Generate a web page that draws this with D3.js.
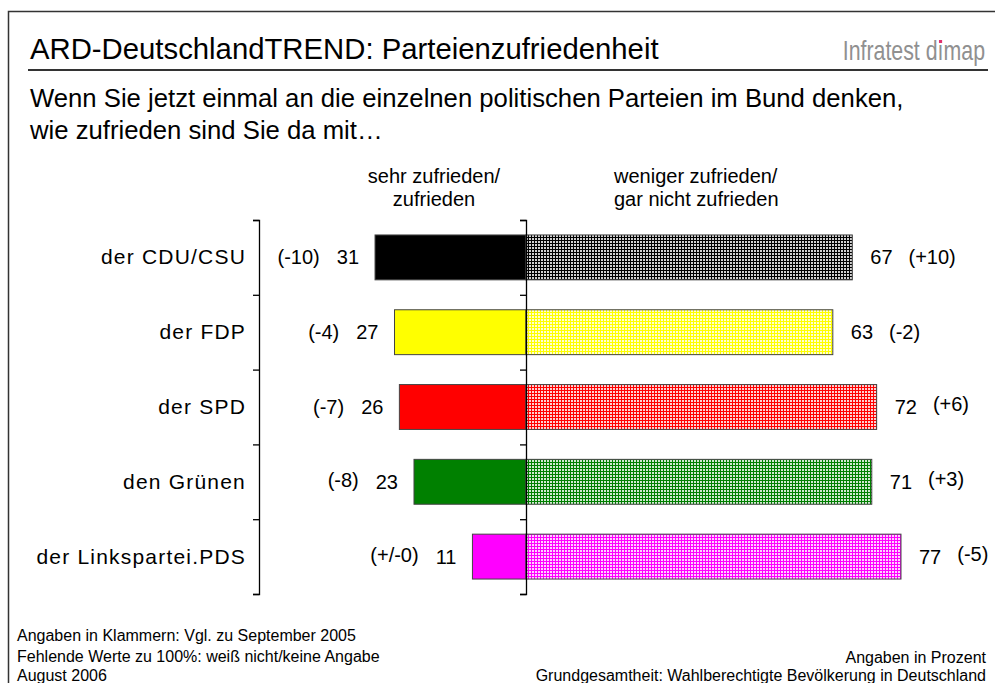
<html>
<head>
<meta charset="utf-8"/>
<script src="https://d3js.org/d3.v7.min.js"></script>
<style>
  body { margin: 0; background: #fff; }
  text { font-family: "Liberation Sans", Arial, sans-serif; fill: #000; }
</style>
</head>
<body>
<div id="v"></div>
<script type="text/javascript">
// data
var parties = ["der CDU/CSU", "der FDP", "der SPD", "den Grünen", "der Linkspartei.PDS"];
var satisfied = [31, 27, 26, 23, 11];
var satisfiedChange = ["(-10)", "(-4)", "(-7)", "(-8)", "(+/-0)"];
var dissatisfied = [67, 63, 72, 71, 77];
var dissatisfiedChange = ["(+10)", "(-2)", "(+6)", "(+3)", "(-5)"];
var partyColors = ["#000000", "#ffff00", "#ff0000", "#008000", "#ff00ff"];

(function() {
  var width = 995, height = 683;
  var center = 526, axisLeftX = 259;

  var svg = d3.select("#v").append("svg")
    .attr("width", width)
    .attr("height", height);

  // dotted grid patterns for the right hand bars
  var defs = svg.append("defs");
  partyColors.forEach(function(c, i) {
    var p = defs.append("pattern")
      .attr("id", "pat" + i)
      .attr("width", 3).attr("height", 3)
      .attr("patternUnits", "userSpaceOnUse");
    p.append("rect").attr("width", 3).attr("height", 3).attr("fill", c);
    p.append("rect").attr("x", 1).attr("y", 1).attr("width", 2).attr("height", 2)
      .attr("fill", "#fff").attr("fill-opacity", 0.82);
  });

  // frame + header
  svg.append("path")
    .attr("d", "M8.5," + height + "V11.5H" + width)
    .attr("fill", "none").attr("stroke", "#333").attr("stroke-width", 1.5);

  svg.append("text")
    .attr("x", 30).attr("y", 59)
    .style("font-size", "29.3px")
    .text("ARD-DeutschlandTREND: Parteienzufriedenheit");

  var brandG = svg.append("g").attr("transform", "translate(985,60) scale(0.79,1)");
  var brand = brandG.append("text")
    .attr("x", 0).attr("y", 0)
    .attr("text-anchor", "end")
    .style("font-size", "27px")
    .style("fill", "#909090")
    .text("Infratest d\u0131map");
  var ext = brand.node().getExtentOfChar(11);
  brandG.append("rect")
    .attr("x", ext.x + ext.width / 2 - 2)
    .attr("y", -20)
    .attr("width", 4).attr("height", 3)
    .attr("fill", "#e0306e");

  svg.append("line")
    .attr("x1", 28).attr("x2", 988)
    .attr("y1", 70).attr("y2", 70)
    .attr("stroke", "#333").attr("stroke-width", 2);

  svg.append("text")
    .attr("x", 30).attr("y", 107)
    .style("font-size", "25.7px")
    .text("Wenn Sie jetzt einmal an die einzelnen politischen Parteien im Bund denken,");
  svg.append("text")
    .attr("x", 30).attr("y", 139)
    .style("font-size", "25.7px")
    .text("wie zufrieden sind Sie da mit\u2026");

  // column headers
  var hdr = svg.append("g").style("font-size", "20px");
  hdr.append("text").attr("x", 434).attr("y", 183).attr("text-anchor", "middle").text("sehr zufrieden/");
  hdr.append("text").attr("x", 434).attr("y", 206).attr("text-anchor", "middle").text("zufrieden");
  hdr.append("text").attr("x", 614).attr("y", 183).text("weniger zufrieden/");
  hdr.append("text").attr("x", 614).attr("y", 206).text("gar nicht zufrieden");

  // scales
  var y = d3.scaleBand()
    .domain(parties)
    .range([220, 594])
    .paddingInner(0.4)
    .paddingOuter(0.2);
  var xLeft = d3.scaleLinear().domain([0, 100]).range([center, center - 487]);
  var xRight = d3.scaleLinear().domain([0, 100]).range([center, center + 487]);
  var edges = d3.scaleLinear().domain([0, parties.length]).range([220, 594]);

  // bars
  var rows = svg.selectAll(".row")
    .data(parties).enter()
    .append("g")
    .attr("class", "row");

  rows.append("rect")
    .attr("x", function(d, i) { return xLeft(satisfied[i]); })
    .attr("y", function(d) { return y(d); })
    .attr("width", function(d, i) { return center - xLeft(satisfied[i]); })
    .attr("height", y.bandwidth())
    .attr("fill", function(d, i) { return partyColors[i]; })
    .attr("stroke", "#444").attr("stroke-width", 1);

  rows.append("rect")
    .attr("x", center)
    .attr("y", function(d) { return y(d); })
    .attr("width", function(d, i) { return xRight(dissatisfied[i]) - center; })
    .attr("height", y.bandwidth())
    .attr("fill", function(d, i) { return "url(#pat" + i + ")"; })
    .attr("stroke", "#444").attr("stroke-width", 1);

  // value labels
  var mid = function(d) { return y(d) + y.bandwidth() / 2 + 7; };

  rows.each(function(d, i) {
    var g = d3.select(this);
    var lv = g.append("text")
      .attr("x", xLeft(satisfied[i]) - 16)
      .attr("y", mid(d))
      .attr("text-anchor", "end")
      .style("font-size", "20px")
      .text(satisfied[i]);
    var lw = lv.node().getComputedTextLength();
    g.append("text")
      .attr("x", xLeft(satisfied[i]) - 16 - lw - 17)
      .attr("y", mid(d) - (i >= 3 ? 2 : 0))
      .attr("text-anchor", "end")
      .style("font-size", "20px")
      .text(satisfiedChange[i]);

    var rv = g.append("text")
      .attr("x", xRight(dissatisfied[i]) + 18)
      .attr("y", mid(d))
      .style("font-size", "20px")
      .text(dissatisfied[i]);
    var rw = rv.node().getComputedTextLength();
    g.append("text")
      .attr("x", xRight(dissatisfied[i]) + 18 + rw + 16)
      .attr("y", mid(d) - (i >= 2 ? 3 : 0))
      .style("font-size", "20px")
      .text(dissatisfiedChange[i]);
  });

  // axes (bracket style, ticks between categories)
  var edgeAxis = d3.axisLeft(edges).ticks(parties.length).tickSize(6).tickFormat("");
  [axisLeftX, center].forEach(function(xPos) {
    var a = svg.append("g")
      .attr("transform", "translate(" + xPos + ",0)")
      .call(edgeAxis);
    a.selectAll("path, line").attr("stroke", "#000").attr("stroke-width", 1.3);
  });

  svg.append("g")
    .selectAll(".cat")
    .data(parties).enter()
    .append("text")
    .attr("class", "cat")
    .attr("x", axisLeftX - 13)
    .attr("y", mid)
    .attr("text-anchor", "end")
    .style("font-size", "21px")
    .style("letter-spacing", "1.2px")
    .text(function(d) { return d; });

  // footer
  var foot = svg.append("g").style("font-size", "16px");
  foot.append("text").attr("x", 17).attr("y", 641).text("Angaben in Klammern: Vgl. zu September 2005");
  foot.append("text").attr("x", 17).attr("y", 662).text("Fehlende Werte zu 100%: weiß nicht/keine Angabe");
  foot.append("text").attr("x", 17).attr("y", 681).text("August 2006");
  foot.append("text").attr("x", 986).attr("y", 663).attr("text-anchor", "end").text("Angaben in Prozent");
  foot.append("text").attr("x", 986).attr("y", 681).attr("text-anchor", "end").text("Grundgesamtheit: Wahlberechtigte Bevölkerung in Deutschland");
})();
</script>
</body>
</html>
